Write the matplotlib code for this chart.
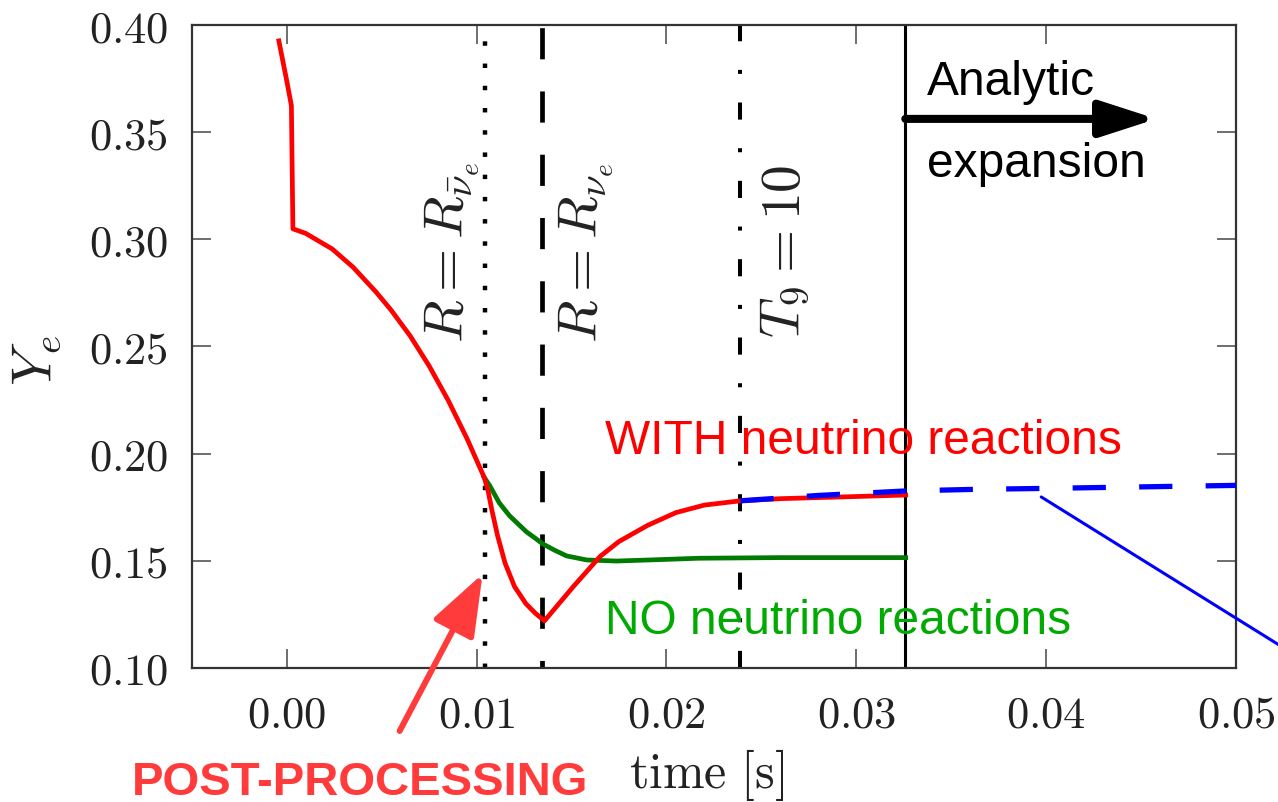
import matplotlib
matplotlib.use('Agg')
import matplotlib.pyplot as plt
from matplotlib.ticker import FuncFormatter

plt.rcParams['mathtext.fontset'] = 'cm'
plt.rcParams['font.family'] = ['Liberation Sans', 'DejaVu Sans']

# curve WITH neutrino reactions (red)
t_red = [-0.00041, 0.00002, 0.00025, 0.00033, 0.0010, 0.0024, 0.0035, 0.0047,
         0.0055, 0.0065, 0.0075, 0.0085, 0.0095, 0.0104, 0.0106, 0.0108,
         0.0111, 0.0115, 0.0120, 0.0126, 0.0131, 0.01358, 0.0151, 0.0165,
         0.0175, 0.0190, 0.0205, 0.0220, 0.0239, 0.0260, 0.0300, 0.0326]
ye_red = [0.3926, 0.3733, 0.3624, 0.3049, 0.3028, 0.2955, 0.2870, 0.2755,
          0.2670, 0.2550, 0.2410, 0.2250, 0.2070, 0.1890, 0.1830, 0.1740,
          0.1620, 0.1490, 0.1380, 0.1300, 0.1255, 0.1220, 0.1380, 0.1520,
          0.1590, 0.1665, 0.1725, 0.1760, 0.1780, 0.1790, 0.1800, 0.1807]

# NO neutrino reactions (green)
t_green = [0.0104, 0.0107, 0.0112, 0.01174, 0.01263, 0.0131, 0.01347, 0.0141,
           0.01474, 0.0158, 0.01737, 0.0191, 0.0217, 0.026, 0.0326]
ye_green = [0.189, 0.185, 0.177, 0.171, 0.1635, 0.1605, 0.158, 0.155,
            0.1523, 0.1504, 0.1499, 0.1504, 0.1512, 0.1515, 0.1515]

# analytic expansion (blue dashed)
t_blue = [0.0239, 0.028, 0.0326, 0.036, 0.040, 0.045, 0.050]
ye_blue = [0.178, 0.1805, 0.1826, 0.1833, 0.1838, 0.1845, 0.1852]

# vertical markers
t_nubar = 0.01042
t_nu = 0.01347
t_t9 = 0.02389
t_analytic = 0.03258

xticks = [0.00, 0.01, 0.02, 0.03, 0.04, 0.05]
yticks = [0.10, 0.15, 0.20, 0.25, 0.30, 0.35, 0.40]

fig = plt.figure(figsize=(12.78, 8.03), dpi=100)
ax = fig.add_axes([0.150, 0.1669, 0.8172, 0.8007])

ax.axvline(t_nubar, color='k', lw=3.2, linestyle=(0, (1, 4.0)), zorder=1)
ax.axvline(t_nu, color='k', lw=3.4, linestyle=(5, (6.6, 6.8)), zorder=1)
ax.axvline(t_t9, color='k', lw=2.9, linestyle=(0, (4.25, 7.1, 1, 7.1)), zorder=1)
ax.axvline(t_analytic, color='k', lw=2.2, zorder=1)

ax.plot(t_red, ye_red, color='#ff0000', lw=3.4, solid_joinstyle='round', zorder=3)
ax.plot(t_green, ye_green, color='#007a00', lw=3.4, solid_joinstyle='round', zorder=2)
ax.plot(t_blue, ye_blue, color='#0000ff', lw=3.8, linestyle=(0, (6.3, 6.3)), zorder=4)

ax.set_xlim(-0.005, 0.05)
ax.set_ylim(0.10, 0.40)
ax.set_xticks(xticks)
ax.set_yticks(yticks)
fmt = FuncFormatter(lambda v, p: r'$%.2f$' % v)
ax.xaxis.set_major_formatter(fmt)
ax.yaxis.set_major_formatter(fmt)
ax.tick_params(direction='in', length=14, width=1.2, color='#555555',
               top=True, right=True, labelsize=32, labelcolor='#222222')
ax.tick_params(axis='x', pad=19)
ax.tick_params(axis='y', pad=17)
for s in ax.spines.values():
    s.set_color('#333333')
    s.set_linewidth(1.6)

ax.text(-0.148, 0.48, r'$Y_e$', transform=ax.transAxes, rotation=90,
        ha='center', va='center', fontsize=40, color='#222222')
ax.text(0.4934, -0.165, r'$\mathrm{time\ [s]}$', transform=ax.transAxes,
        ha='center', va='center', fontsize=36, color='#222222')

# rotated labels of the vertical lines
ax.text(0.00926, 0.2521, r'$R = R_{\bar{\nu}_e}$', rotation=90, rotation_mode='anchor',
        ha='left', va='baseline', fontsize=40, color='#222222')
ax.text(0.01632, 0.2521, r'$R = R_{\nu_e}$', rotation=90, rotation_mode='anchor',
        ha='left', va='baseline', fontsize=40, color='#222222')
ax.text(0.0270, 0.2545, r'$T_9 = 10$', rotation=90, rotation_mode='anchor',
        ha='left', va='baseline', fontsize=40, color='#222222')

ax.text(0.01679, 0.2003, 'WITH neutrino reactions', color='#ff0000',
        fontsize=34.5, va='baseline', zorder=6)
ax.text(0.01679, 0.1163, 'NO neutrino reactions', color='#00aa00',
        fontsize=34.5, va='baseline', zorder=6)

ax.text(0.03374, 0.3678, 'Analytic', color='k', fontsize=34.5, va='baseline')
ax.text(0.03374, 0.3296, 'expansion', color='k', fontsize=34.5, va='baseline')
ax.annotate('', xy=(0.0458, 0.3562), xytext=(t_analytic, 0.3562),
            arrowprops=dict(arrowstyle='-|>,head_length=3.4,head_width=1.1',
                            color='k', lw=5.8, mutation_scale=10,
                            shrinkA=0, shrinkB=0))

# post-processing arrow
ax.text(-0.00816, 0.0412, 'POST-PROCESSING', color='#ff3b3b', fontsize=34,
        fontweight='bold', va='baseline', clip_on=False)
ax.annotate('', xy=(0.01032, 0.1439), xytext=(0.00595, 0.0706),
            arrowprops=dict(arrowstyle='-|>,head_length=3.8,head_width=1.4',
                            color='#ff3b3b', lw=4.3, mutation_scale=10,
                            shrinkA=0, shrinkB=0),
            annotation_clip=False)

# blue pointer line leaving the frame
ax.annotate('', xy=(0.03974, 0.1798), xytext=(1300, 144), textcoords='figure pixels',
            arrowprops=dict(arrowstyle='-', color='#0000ff', lw=2.2,
                            shrinkA=0, shrinkB=0),
            annotation_clip=False)

fig.savefig('out.png', dpi=100)
